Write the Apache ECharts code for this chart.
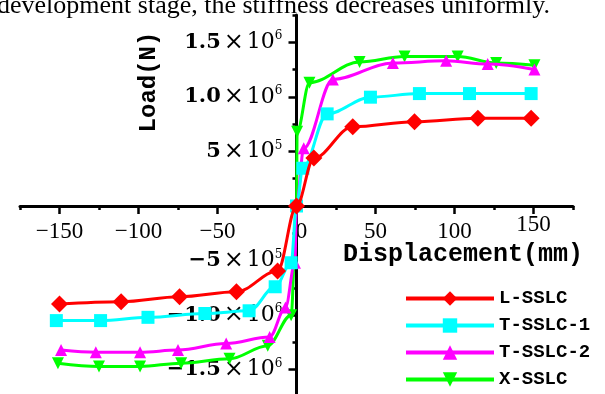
<!DOCTYPE html>
<html>
<head>
<meta charset="utf-8">
<script src="https://cdn.jsdelivr.net/npm/echarts@6/dist/echarts.min.js"></script>
<style>
html,body{margin:0;padding:0;background:#fff;}
#c{width:605px;height:394px;}
</style>
</head>
<body>
<div id="c"></div>
<script>
// ---- data (displacement mm, load N) ----
const seriesNames = ['L-SSLC', 'T-SSLC-1', 'T-SSLC-2', 'X-SSLC'];
const lsslcX = [-150, -111, -74, -38, -12, 0, 11, 35.6, 74.7, 114.8, 148.5];
const lsslcY = [-899000, -878000, -832000, -786000, -595000, 0, 440000, 727000, 773000, 805000, 805000];
const tsslc1X = [-152, -124, -94, -58, -30, -13.5, -3.4, 0, 4, 19.4, 46.8, 77.8, 109.5, 148.5];
const tsslc1Y = [-1050000, -1050000, -1020000, -985000, -960000, -740000, -520000, 0, 346000, 844000, 997000, 1030000, 1030000, 1030000];
const tsslc2X = [-149, -127, -99, -75, -44.5, -17, -7, -1, 0, 4.6, 23, 61, 94.7, 121, 150.6];
const tsslc2Y = [-1320000, -1340000, -1340000, -1320000, -1260000, -1200000, -930000, -520000, 0, 529000, 1160000, 1310000, 1330000, 1300000, 1250000];
const xsslcX = [-151, -125, -99, -73, -42.4, -18.2, -3.4, 0, 0.4, 8.2, 39.9, 68.4, 102, 126.4, 150.6];
const xsslcY = [-1440000, -1470000, -1470000, -1440000, -1400000, -1280000, -1000000, 0, 680000, 1130000, 1320000, 1370000, 1370000, 1310000, 1290000];

// ---- tick labels ----
const xTickValues = [-150, -100, -50, 0, 50, 100, 150];
const xTickLabels = ['\u2212150', '\u2212100', '\u221250', '0', '50', '100', '150'];
const yTickValues = [-1500000, -1000000, -500000, 500000, 1000000, 1500000];
const yTickMant = ['\u22121.5', '\u22121.0', '\u22125', '5', '1.0', '1.5'];
const yTickExp = ['6', '6', '5', '5', '6', '6'];
const yMajorTicks = [-1500000, -1000000, -500000, 0, 500000, 1000000, 1500000];

const topText = 'development stage, the stiffness decreases uniformly.';
const xTitle = 'Displacement(mm)';
const yTitle = 'Load(N)';

function pairs(xs, ys) { return xs.map((x, i) => [x, ys[i]]); }

const chart = echarts.init(document.getElementById('c'), null, {renderer: 'canvas'});

const colors = ['#ff0000', '#00ffff', '#ff00ff', '#00ff00'];
const symbols = ['diamond', 'rect', 'triangle', 'path://M0,0 L10,0 L5,9 Z'];
const symSizes = [17, 13, 12, 12];
const dataSets = [pairs(lsslcX, lsslcY), pairs(tsslc1X, tsslc1Y), pairs(tsslc2X, tsslc2Y), pairs(xsslcX, xsslcY)];

const gridLeft = 20, gridTop = 15, gridW = 553, gridH = 382;
// axes cross at the data origin (centre of the grid)
const xAxisOffset = -gridH / 2;   // move x axis up from grid bottom to y = 0
const yAxisOffset = -gridW / 2;   // move y axis right from grid left to x = 0

const option = {
  animation: false,
  backgroundColor: '#fff',
  grid: {left: gridLeft, top: gridTop, width: gridW, height: gridH, containLabel: false, outerBoundsMode: 'none'},
  xAxis: [{
    type: 'value', min: -175, max: 175, interval: 25, position: 'bottom', offset: xAxisOffset,
    axisLine: {onZero: false, lineStyle: {color: '#000', width: 3}},
    axisTick: {length: 4, lineStyle: {color: '#000', width: 2.5}},
    splitLine: {show: false},
    axisLabel: {
      margin: 14, color: '#000', fontFamily: 'Liberation Serif', fontSize: 23,
      formatter: function (v) {
        const i = xTickValues.indexOf(v);
        if (i < 0) return '';
        if (v === 150) return '{h|' + xTickLabels[i] + '}';
        if (v === 0) return '{z|' + xTickLabels[i] + '}';
        return '{n|' + xTickLabels[i] + '}';
      },
      rich: {
        n: {fontFamily: 'Liberation Serif', fontSize: 23, lineHeight: 23, color: '#000'},
        z: {fontFamily: 'Liberation Serif', fontSize: 23, lineHeight: 23, color: '#000', padding: [0, 0, 0, 10]},
        h: {fontFamily: 'Liberation Serif', fontSize: 23, lineHeight: 9, color: '#000'}
      }
    }
  }, {
    type: 'value', min: -175, max: 175, interval: 25, position: 'bottom', offset: xAxisOffset,
    axisLine: {show: false, onZero: false},
    axisTick: {length: 8, customValues: xTickValues, lineStyle: {color: '#000', width: 2.5}},
    axisLabel: {show: false}, splitLine: {show: false}
  }],
  yAxis: [{
    type: 'value', min: -1750000, max: 1750000, interval: 250000, position: 'left', offset: yAxisOffset,
    axisLine: {onZero: false, lineStyle: {color: '#000', width: 3}},
    axisTick: {length: 4, lineStyle: {color: '#000', width: 2.5}},
    splitLine: {show: false},
    axisLabel: {
      margin: 14, color: '#000',
      formatter: function (v) {
        const i = yTickValues.indexOf(v);
        if (i < 0) return '';
        return '{m|' + yTickMant[i] + '}{x|\u00d7}{t|10}{s|' + yTickExp[i] + '}';
      },
      rich: {
        m: {fontFamily: 'DejaVu Serif', fontWeight: 'bold', fontSize: 21, lineHeight: 24, color: '#000'},
        x: {fontFamily: 'DejaVu Serif', fontSize: 24, lineHeight: 24, color: '#000', padding: [0, 3, 0, 3]},
        t: {fontFamily: 'DejaVu Serif', fontSize: 22, lineHeight: 24, color: '#000'},
        s: {fontFamily: 'DejaVu Serif', fontSize: 12, lineHeight: 12, verticalAlign: 'top', color: '#000'}
      }
    }
  }, {
    type: 'value', min: -1750000, max: 1750000, interval: 250000, position: 'left', offset: yAxisOffset,
    axisLine: {show: false, onZero: false},
    axisTick: {length: 8, customValues: yMajorTicks, lineStyle: {color: '#000', width: 2.5}},
    axisLabel: {show: false}, splitLine: {show: false}
  }],
  legend: {
    orient: 'vertical', left: 404, top: 289, height: 130, padding: 0,
    itemWidth: 88, itemHeight: 18, itemGap: 8,
    lineStyle: {width: 4},
    textStyle: {fontFamily: 'Liberation Mono', fontWeight: 'bold', fontSize: 19, color: '#000'},
    data: seriesNames
  },
  series: seriesNames.map((n, i) => ({
    name: n, type: 'line', xAxisIndex: 0, yAxisIndex: 0,
    data: dataSets[i], smooth: 0.35, smoothMonotone: 'x',
    symbol: symbols[i], symbolSize: symSizes[i], showSymbol: true,
    lineStyle: {color: colors[i], width: 3},
    itemStyle: {color: colors[i]},
    z: 3 + (3 - i)
  })),
  graphic: [
    {type: 'text', x: -3, y: 6, style: {text: topText, font: '26px "Liberation Serif"', fill: '#000', verticalAlign: 'middle'}},
    {type: 'text', x: 463, y: 255, style: {text: xTitle, font: 'bold 25px "Liberation Mono"', fill: '#000', align: 'center', verticalAlign: 'middle'}},
    {type: 'text', x: 149, y: 82, rotation: Math.PI / 2, style: {text: yTitle, font: 'bold 24px "Liberation Mono"', fill: '#000', align: 'center', verticalAlign: 'middle'}}
  ]
};
chart.setOption(option);
</script>
</body>
</html>
